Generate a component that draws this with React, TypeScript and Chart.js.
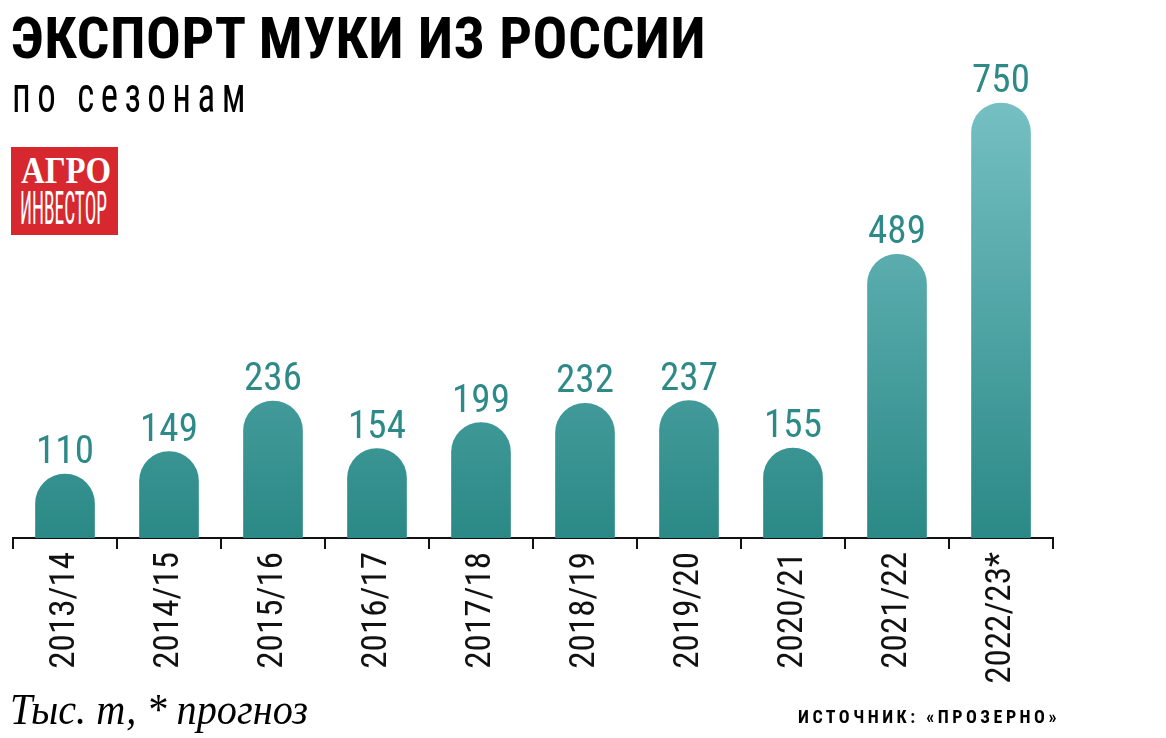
import React, { useEffect, useLayoutEffect, useRef } from 'react';
import { Chart, registerables } from 'chart.js';

Chart.register(...registerables);

// ---- data ----
const seasons = ['2013/14', '2014/15', '2015/16', '2016/17', '2017/18', '2018/19', '2019/20', '2020/21', '2021/22', '2022/23*'];
const exportKt = [110, 149, 236, 154, 199, 232, 237, 155, 489, 750];
const yAxisMax = 800;

const titleText = 'ЭКСПОРТ МУКИ ИЗ РОССИИ';
const subtitleText = 'по сезонам';
const unitsText = 'Тыс. т, * прогноз';
const sourceText = 'ИСТОЧНИК: «ПРОЗЕРНО»';

const NARROW = '"Liberation Sans Narrow", "Arial Narrow", "Roboto Condensed", "DejaVu Sans Condensed", sans-serif';
const TEAL = '#2e8a88';

type FitProps = {
  text: string;
  left: number;
  top: number;
  width: number;
  scaleY?: number;
  style?: React.CSSProperties;
};

function FitText({ text, left, top, width, scaleY = 1, style }: FitProps) {
  const ref = useRef<HTMLSpanElement>(null);
  useLayoutEffect(() => {
    const el = ref.current;
    if (!el) return;
    el.style.transform = 'none';
    const w = el.getBoundingClientRect().width;
    const sx = w > 0 ? width / w : 1;
    el.style.transform = `scale(${sx}, ${scaleY})`;
  }, [text, width, scaleY]);
  return (
    <span
      ref={ref}
      style={{
        position: 'absolute',
        left,
        top,
        whiteSpace: 'nowrap',
        lineHeight: 1,
        display: 'inline-block',
        transformOrigin: '0 0',
        color: '#000',
        ...style,
      }}
    >
      {text}
    </span>
  );
}

const valueLabels = {
  id: 'valueLabels',
  afterDatasetsDraw(chart: any) {
    const ctx = chart.ctx as CanvasRenderingContext2D;
    const meta = chart.getDatasetMeta(0);
    ctx.save();
    ctx.font = `39px ${NARROW}`;
    ctx.fillStyle = TEAL;
    ctx.textAlign = 'center';
    ctx.textBaseline = 'alphabetic';
    meta.data.forEach((bar: any, i: number) => {
      ctx.fillText(String(exportKt[i]), bar.x, bar.y - 11);
    });
    ctx.restore();
  },
};

export default function App() {
  const canvasRef = useRef<HTMLCanvasElement>(null);

  useEffect(() => {
    const canvas = canvasRef.current;
    if (!canvas) return;
    const chart = new Chart(canvas, {
      type: 'bar',
      data: {
        labels: seasons,
        datasets: [
          {
            data: exportKt,
            backgroundColor: (c: any) => {
              const area = c.chart.chartArea;
              if (!area) return '#2e8d8a';
              const g = c.chart.ctx.createLinearGradient(0, area.bottom, 0, area.top);
              g.addColorStop(0, '#2a8986');
              g.addColorStop(1, '#7ac3c7');
              return g;
            },
            borderWidth: 0,
            borderRadius: { topLeft: 30, topRight: 30, bottomLeft: 0, bottomRight: 0 },
            borderSkipped: 'bottom',
            barThickness: 59,
          },
        ],
      },
      options: {
        responsive: false,
        animation: false,
        layout: { padding: { left: 13, right: 113, top: 74, bottom: 0 } },
        plugins: {
          legend: { display: false },
          tooltip: { enabled: false },
        },
        scales: {
          x: {
            offset: true,
            grid: {
              display: true,
              drawOnChartArea: false,
              drawTicks: true,
              tickLength: 11,
              color: '#111',
              lineWidth: 2,
              offset: true,
            },
            border: { display: true, color: '#111', width: 2 },
            ticks: {
              color: '#111',
              font: { family: NARROW, size: 35 },
              minRotation: 90,
              maxRotation: 90,
              autoSkip: false,
              padding: 3,
            },
            afterFit: (s: any) => {
              s.height = 200;
            },
          },
          y: { display: false, min: 0, max: yAxisMax },
        },
      },
      plugins: [valueLabels],
    });
    return () => chart.destroy();
  }, []);

  return (
    <div
      style={{
        position: 'absolute',
        left: 0,
        top: 0,
        width: 1166,
        height: 738,
        background: '#fff',
        overflow: 'hidden',
      }}
    >
      <canvas ref={canvasRef} width={1166} height={738} style={{ position: 'absolute', left: 0, top: 0 }} />
      <FitText
        text={titleText}
        left={11}
        top={9.4}
        width={695}
        style={{ fontFamily: NARROW, fontWeight: 700, fontSize: 58, letterSpacing: 0.5 }}
      />
      <FitText
        text={subtitleText}
        left={12}
        top={70.7}
        width={240}
        scaleY={1.25}
        style={{ fontFamily: NARROW, fontWeight: 400, fontSize: 40, letterSpacing: 7 }}
      />
      <div
        style={{
          position: 'absolute',
          left: 11,
          top: 147,
          width: 107,
          height: 88,
          background: '#d7282f',
        }}
      />
      <FitText
        text="АГРО"
        left={21}
        top={150.5}
        width={90}
        style={{ fontFamily: '"Liberation Serif", serif', fontWeight: 700, fontSize: 38, color: '#fff' }}
      />
      <FitText
        text="ИНВЕСТОР"
        left={20}
        top={185}
        width={87}
        style={{ fontFamily: NARROW, fontWeight: 400, fontSize: 46, color: '#fff' }}
      />
      <FitText
        text={unitsText}
        left={10}
        top={688.2}
        width={298}
        style={{ fontFamily: '"Liberation Serif", serif', fontStyle: 'italic', fontSize: 44 }}
      />
      <FitText
        text={sourceText}
        left={798}
        top={707.8}
        width={262}
        style={{ fontFamily: NARROW, fontWeight: 700, fontSize: 18, letterSpacing: 3.5 }}
      />
    </div>
  );
}
